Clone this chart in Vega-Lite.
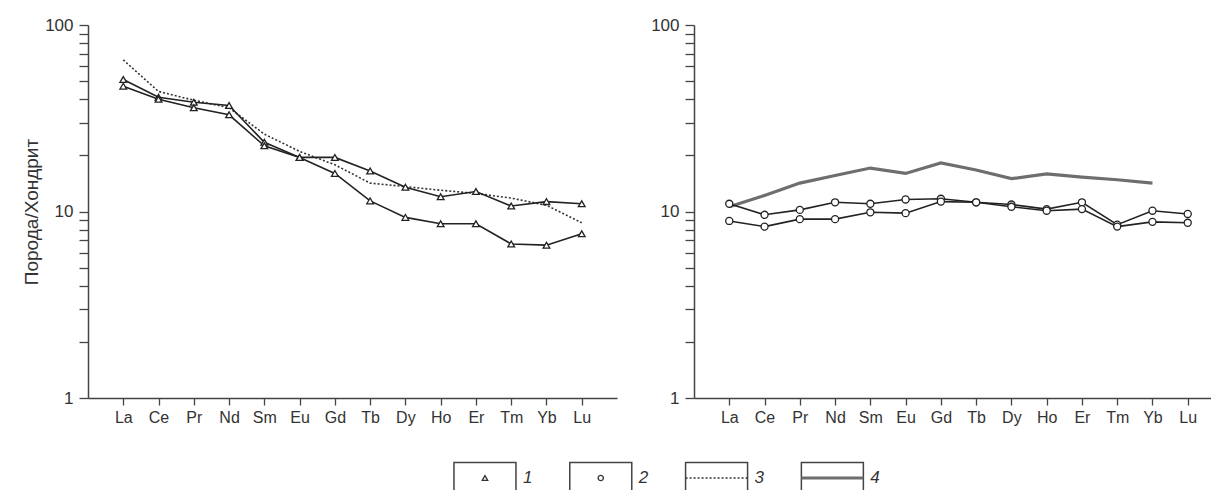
{
  "$schema": "https://vega.github.io/schema/vega-lite/v6.json",
  "padding": {"left": 22, "top": 16, "right": 0, "bottom": 0},
  "bounds": "flush",
  "spacing": 438,
  "datasets": {
    "ree": [
      {"panel": "L", "series": "1a", "el": "La", "v": 51},
      {"panel": "L", "series": "1a", "el": "Ce", "v": 41},
      {"panel": "L", "series": "1a", "el": "Pr", "v": 38.5},
      {"panel": "L", "series": "1a", "el": "Nd", "v": 37},
      {"panel": "L", "series": "1a", "el": "Sm", "v": 23.5},
      {"panel": "L", "series": "1a", "el": "Eu", "v": 19.5},
      {"panel": "L", "series": "1a", "el": "Gd", "v": 19.5},
      {"panel": "L", "series": "1a", "el": "Tb", "v": 16.5},
      {"panel": "L", "series": "1a", "el": "Dy", "v": 13.5},
      {"panel": "L", "series": "1a", "el": "Ho", "v": 12.0},
      {"panel": "L", "series": "1a", "el": "Er", "v": 12.8},
      {"panel": "L", "series": "1a", "el": "Tm", "v": 10.7},
      {"panel": "L", "series": "1a", "el": "Yb", "v": 11.3},
      {"panel": "L", "series": "1a", "el": "Lu", "v": 11.0},
      {"panel": "L", "series": "1b", "el": "La", "v": 47},
      {"panel": "L", "series": "1b", "el": "Ce", "v": 40},
      {"panel": "L", "series": "1b", "el": "Pr", "v": 36},
      {"panel": "L", "series": "1b", "el": "Nd", "v": 33},
      {"panel": "L", "series": "1b", "el": "Sm", "v": 22.5},
      {"panel": "L", "series": "1b", "el": "Eu", "v": 19.5},
      {"panel": "L", "series": "1b", "el": "Gd", "v": 16},
      {"panel": "L", "series": "1b", "el": "Tb", "v": 11.4},
      {"panel": "L", "series": "1b", "el": "Dy", "v": 9.3},
      {"panel": "L", "series": "1b", "el": "Ho", "v": 8.6},
      {"panel": "L", "series": "1b", "el": "Er", "v": 8.6},
      {"panel": "L", "series": "1b", "el": "Tm", "v": 6.7},
      {"panel": "L", "series": "1b", "el": "Yb", "v": 6.6},
      {"panel": "L", "series": "1b", "el": "Lu", "v": 7.6},
      {"panel": "L", "series": "3", "el": "La", "v": 65},
      {"panel": "L", "series": "3", "el": "Ce", "v": 44},
      {"panel": "L", "series": "3", "el": "Pr", "v": 39.5},
      {"panel": "L", "series": "3", "el": "Nd", "v": 36},
      {"panel": "L", "series": "3", "el": "Sm", "v": 26},
      {"panel": "L", "series": "3", "el": "Eu", "v": 21},
      {"panel": "L", "series": "3", "el": "Gd", "v": 17.8},
      {"panel": "L", "series": "3", "el": "Tb", "v": 14.2},
      {"panel": "L", "series": "3", "el": "Dy", "v": 13.6},
      {"panel": "L", "series": "3", "el": "Ho", "v": 13.0},
      {"panel": "L", "series": "3", "el": "Er", "v": 12.5},
      {"panel": "L", "series": "3", "el": "Tm", "v": 11.8},
      {"panel": "L", "series": "3", "el": "Yb", "v": 10.8},
      {"panel": "L", "series": "3", "el": "Lu", "v": 8.7},
      {"panel": "R", "series": "2a", "el": "La", "v": 11.0},
      {"panel": "R", "series": "2a", "el": "Ce", "v": 9.6},
      {"panel": "R", "series": "2a", "el": "Pr", "v": 10.2},
      {"panel": "R", "series": "2a", "el": "Nd", "v": 11.2},
      {"panel": "R", "series": "2a", "el": "Sm", "v": 11.0},
      {"panel": "R", "series": "2a", "el": "Eu", "v": 11.6},
      {"panel": "R", "series": "2a", "el": "Gd", "v": 11.7},
      {"panel": "R", "series": "2a", "el": "Tb", "v": 11.2},
      {"panel": "R", "series": "2a", "el": "Dy", "v": 10.9},
      {"panel": "R", "series": "2a", "el": "Ho", "v": 10.3},
      {"panel": "R", "series": "2a", "el": "Er", "v": 11.2},
      {"panel": "R", "series": "2a", "el": "Tm", "v": 8.5},
      {"panel": "R", "series": "2a", "el": "Yb", "v": 10.1},
      {"panel": "R", "series": "2a", "el": "Lu", "v": 9.7},
      {"panel": "R", "series": "2b", "el": "La", "v": 8.9},
      {"panel": "R", "series": "2b", "el": "Ce", "v": 8.3},
      {"panel": "R", "series": "2b", "el": "Pr", "v": 9.1},
      {"panel": "R", "series": "2b", "el": "Nd", "v": 9.1},
      {"panel": "R", "series": "2b", "el": "Sm", "v": 9.9},
      {"panel": "R", "series": "2b", "el": "Eu", "v": 9.8},
      {"panel": "R", "series": "2b", "el": "Gd", "v": 11.3},
      {"panel": "R", "series": "2b", "el": "Tb", "v": 11.2},
      {"panel": "R", "series": "2b", "el": "Dy", "v": 10.6},
      {"panel": "R", "series": "2b", "el": "Ho", "v": 10.1},
      {"panel": "R", "series": "2b", "el": "Er", "v": 10.3},
      {"panel": "R", "series": "2b", "el": "Tm", "v": 8.3},
      {"panel": "R", "series": "2b", "el": "Yb", "v": 8.8},
      {"panel": "R", "series": "2b", "el": "Lu", "v": 8.7},
      {"panel": "R", "series": "4", "el": "La", "v": 10.6},
      {"panel": "R", "series": "4", "el": "Ce", "v": 12.2},
      {"panel": "R", "series": "4", "el": "Pr", "v": 14.2},
      {"panel": "R", "series": "4", "el": "Nd", "v": 15.6},
      {"panel": "R", "series": "4", "el": "Sm", "v": 17.1},
      {"panel": "R", "series": "4", "el": "Eu", "v": 16.0},
      {"panel": "R", "series": "4", "el": "Gd", "v": 18.2},
      {"panel": "R", "series": "4", "el": "Tb", "v": 16.7},
      {"panel": "R", "series": "4", "el": "Dy", "v": 15.0},
      {"panel": "R", "series": "4", "el": "Ho", "v": 15.9},
      {"panel": "R", "series": "4", "el": "Er", "v": 15.3},
      {"panel": "R", "series": "4", "el": "Tm", "v": 14.8},
      {"panel": "R", "series": "4", "el": "Yb", "v": 14.2}
    ],
    "legend": [
      {"item": 1, "kind": "tri"},
      {"item": 2, "kind": "circ"},
      {"item": 3, "kind": "dot"},
      {"item": 4, "kind": "thick"}
    ]
  },
  "vconcat": [
    {
      "hconcat": [
        {
          "width": 529,
          "height": 373,
          "data": {"name": "ree"},
          "transform": [{"filter": "datum.panel == 'L'"}],
          "encoding": {
            "x": {
              "field": "el", "type": "ordinal",
              "scale": {"type": "point", "padding": 1, "domain": ["La","Ce","Pr","Nd","Sm","Eu","Gd","Tb","Dy","Ho","Er","Tm","Yb","Lu"]},
              "axis": {"title": null, "labelAngle": 0, "tickSize": 7, "labelPadding": 4, "labelFontSize": 16}
            },
            "y": {
              "field": "v", "type": "quantitative",
              "scale": {"type": "log", "domain": [1, 100]},
              "axis": {
                "title": "Порода/Хондрит",
                "values": [1,2,3,4,5,6,7,8,9,10,20,30,40,50,60,70,80,90,100],
                "labelExpr": "datum.value == 1 || datum.value == 10 || datum.value == 100 ? datum.label : ''",
                "format": "d",
                "tickSize": 9,
                "labelPadding": 6,
                "titlePadding": 3
              }
            }
          },
          "layer": [
            {
              "transform": [{"filter": "datum.series == '3'"}],
              "mark": {"type": "line", "stroke": "#333", "strokeWidth": 1.6, "strokeDash": [2, 2]}
            },
            {
              "transform": [{"filter": "datum.series == '1a' || datum.series == '1b'"}],
              "mark": {"type": "line", "stroke": "#222", "strokeWidth": 1.6},
              "encoding": {"detail": {"field": "series"}}
            },
            {
              "transform": [{"filter": "datum.series == '1a' || datum.series == '1b'"}],
              "mark": {"type": "point", "shape": "triangle-up", "filled": true, "fill": "white", "stroke": "#222", "strokeWidth": 1.3, "size": 45, "opacity": 1}
            }
          ]
        },
        {
          "width": 529,
          "height": 373,
          "data": {"name": "ree"},
          "transform": [{"filter": "datum.panel == 'R'"}],
          "encoding": {
            "x": {
              "field": "el", "type": "ordinal",
              "scale": {"type": "point", "padding": 1, "domain": ["La","Ce","Pr","Nd","Sm","Eu","Gd","Tb","Dy","Ho","Er","Tm","Yb","Lu"]},
              "axis": {"title": null, "labelAngle": 0, "tickSize": 7, "labelPadding": 4, "labelFontSize": 16}
            },
            "y": {
              "field": "v", "type": "quantitative",
              "scale": {"type": "log", "domain": [1, 100]},
              "axis": {
                "title": null,
                "values": [1,2,3,4,5,6,7,8,9,10,20,30,40,50,60,70,80,90,100],
                "labelExpr": "datum.value == 1 || datum.value == 10 || datum.value == 100 ? datum.label : ''",
                "format": "d",
                "tickSize": 9,
                "labelPadding": 6
              }
            }
          },
          "layer": [
            {
              "transform": [{"filter": "datum.series == '4'"}],
              "mark": {"type": "line", "stroke": "#6e6e6e", "strokeWidth": 3.2}
            },
            {
              "transform": [{"filter": "datum.series == '2a' || datum.series == '2b'"}],
              "mark": {"type": "line", "stroke": "#222", "strokeWidth": 1.6},
              "encoding": {"detail": {"field": "series"}}
            },
            {
              "transform": [{"filter": "datum.series == '2a' || datum.series == '2b'"}],
              "mark": {"type": "point", "shape": "circle", "filled": true, "fill": "white", "stroke": "#222", "strokeWidth": 1.3, "size": 50, "opacity": 1}
            }
          ]
        }
      ],
      "spacing": 77,
      "bounds": "flush"
    },
    {
      "width": 1100,
      "height": 30,
      "data": {"name": "legend"},
      "encoding": {
        "x": {"field": "item", "type": "quantitative", "scale": {"domain": [-2.428, 7.071], "nice": false, "zero": false}, "axis": null}
      },
      "layer": [
        {"mark": {"type": "point", "shape": "M-1,-0.5H1V0.95H-1Z", "size": 3844, "filled": true, "fill": "white", "stroke": "#444", "strokeWidth": 1.5, "opacity": 1}},
        {
          "transform": [{"filter": "datum.kind == 'tri'"}],
          "mark": {"type": "point", "shape": "triangle-up", "filled": true, "fill": "white", "stroke": "#333", "strokeWidth": 1.3, "size": 30, "opacity": 1}
        },
        {
          "transform": [{"filter": "datum.kind == 'circ'"}],
          "mark": {"type": "point", "shape": "circle", "filled": true, "fill": "white", "stroke": "#333", "strokeWidth": 1.3, "size": 28, "opacity": 1}
        },
        {
          "transform": [{"filter": "datum.kind == 'dot'"}],
          "mark": {"type": "point", "shape": "M-1,0H1", "size": 3844, "filled": false, "stroke": "#333", "strokeWidth": 1.6, "strokeDash": [2, 2], "opacity": 1}
        },
        {
          "transform": [{"filter": "datum.kind == 'thick'"}],
          "mark": {"type": "point", "shape": "M-1,0H1", "size": 3844, "filled": false, "stroke": "#6e6e6e", "strokeWidth": 3.2, "opacity": 1}
        },
        {
          "mark": {"type": "text", "align": "left", "dx": 38, "fontStyle": "italic", "fontSize": 17, "font": "Liberation Sans", "fill": "#333"},
          "encoding": {"text": {"field": "item", "type": "nominal"}}
        }
      ]
    }
  ],
  "config": {
    "view": {"stroke": null},
    "axis": {
      "grid": false,
      "domainColor": "#444",
      "domainWidth": 1.5,
      "tickColor": "#444",
      "tickWidth": 1.3,
      "tickSize": 7,
      "labelFont": "Liberation Sans",
      "labelFontSize": 17,
      "labelColor": "#333",
      "titleFont": "Liberation Sans",
      "titleFontSize": 19,
      "titleFontWeight": "normal",
      "titleColor": "#333"
    }
  }
}
